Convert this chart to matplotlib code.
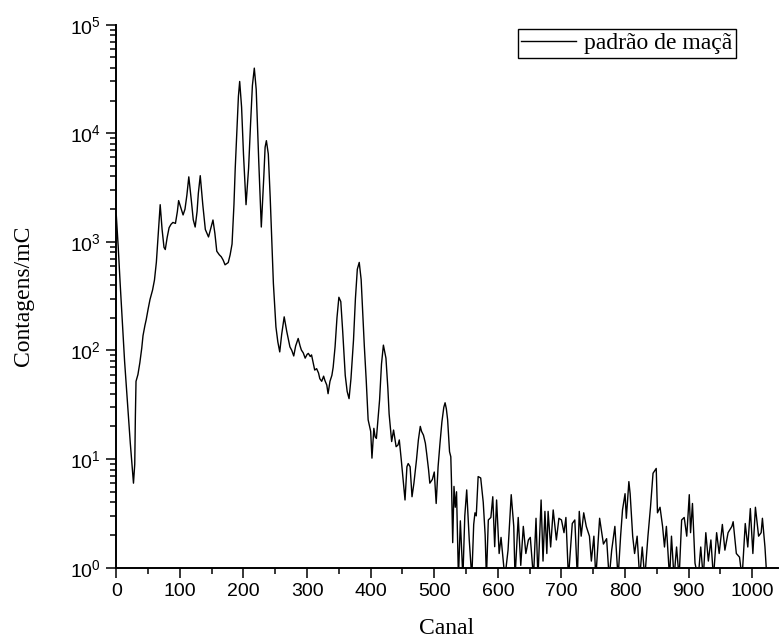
import matplotlib
matplotlib.use("Agg")
import numpy as np
import matplotlib.pyplot as plt

plt.rcParams['mathtext.fontset'] = 'custom'
plt.rcParams['mathtext.rm'] = 'Liberation Sans'
plt.rcParams['mathtext.it'] = 'Liberation Sans:italic'
plt.rcParams['mathtext.bf'] = 'Liberation Sans:bold'

# channel / counts per mC
canal = [
    0, 3, 6, 10, 13, 16, 19, 22, 25, 27, 29, 30, 31, 34, 37, 40, 42, 45, 47, 50,
    53, 57, 60, 63, 66, 69, 72, 75, 77, 80, 83, 86, 89, 93, 96, 98, 101, 105, 108, 111,
    114, 118, 121, 124, 127, 129, 132, 136, 140, 145, 148, 152, 155, 158, 162, 165, 168, 171, 176, 179,
    182, 185, 187, 190, 192, 194, 197, 200, 204, 208, 211, 214, 217, 220, 224, 228, 232, 234, 236, 239,
    242, 247, 251, 254, 257, 260, 264, 268, 273, 276, 279, 282, 286, 289, 291, 294, 297, 300, 302, 305,
    307, 310, 312, 315, 318, 320, 323, 326, 328, 331, 333, 336, 339, 341, 344, 347, 350, 353, 356, 360,
    363, 366, 369, 373, 376, 379, 382, 385, 387, 390, 393, 396, 400, 402, 405, 407, 409, 412, 414, 417,
    420, 424, 427, 429, 433, 436, 440, 443, 445, 448, 451, 454, 457, 459, 462, 465, 468, 472, 475, 478,
    480, 483, 486, 488, 491, 493, 497, 500, 503, 506, 509, 512, 515, 517, 519, 521, 524, 526, 527, 529,
    531, 533, 535, 538, 541, 545, 548, 551, 555, 559, 562, 564, 566, 569, 573, 577, 580, 582, 585, 589,
    592, 595, 598, 602, 605, 611, 616, 621, 625, 627, 632, 636, 640, 644, 648, 651, 656, 660, 663, 668,
    671, 674, 677, 679, 683, 687, 692, 696, 700, 704, 707, 711, 717, 721, 725, 728, 731, 735, 739, 744,
    747, 751, 754, 760, 766, 771, 775, 779, 784, 789, 793, 796, 800, 802, 806, 808, 812, 815, 819, 823,
    827, 831, 836, 840, 844, 849, 851, 855, 859, 862, 865, 870, 873, 877, 881, 885, 889, 893, 897, 901,
    903, 906, 910, 915, 919, 923, 927, 931, 935, 939, 944, 948, 953, 957, 962, 968, 970, 975, 980, 984,
    989, 993, 997, 1001, 1005, 1010, 1014, 1016, 1020, 1023,
]
contagens = [
    1750, 900, 420, 160, 80, 45, 25, 14, 8.5, 6.0, 9, 25, 52, 60, 77, 105, 137, 170, 192, 240,
    295, 360, 445, 650, 1200, 2200, 1300, 890, 850, 1100, 1350, 1450, 1510, 1480, 1900, 2400, 2100, 1770, 2000, 2700,
    3970, 2400, 1600, 1370, 1900, 2800, 4070, 2200, 1300, 1110, 1300, 1590, 1200, 820, 760, 730, 680, 615, 645, 760,
    955, 2200, 4750, 11700, 21800, 30000, 17400, 6400, 2200, 4750, 11800, 27500, 39800, 25300, 5500, 1370, 4050, 7450, 8550, 6450,
    2560, 415, 165, 120, 97, 140, 204, 150, 108, 100, 89, 110, 129, 110, 101, 95, 85, 92, 94, 88,
    91, 75, 66, 68, 62, 55, 52, 58, 53, 48, 40, 52, 59, 70, 108, 200, 309, 282, 150, 59,
    42, 36, 55, 125, 300, 560, 647, 450, 253, 110, 53, 23, 18, 10.2, 19.2, 16, 15.5, 25, 35, 75,
    112, 85, 45, 26, 14.5, 18.5, 13, 13.5, 15, 10, 6.5, 4.2, 8.5, 9.1, 8.5, 4.5, 6.0, 9.8, 15, 20,
    18, 16.6, 14, 11.3, 8, 6.0, 6.5, 7.6, 3.9, 8.5, 14, 22, 30, 33, 29, 23, 11.7, 10.5, 6.4, 1.7,
    5.6, 3.6, 5, 0.8, 2.7, 0.8, 3, 5.2, 1.8, 0.8, 2.5, 3.2, 3, 6.9, 6.7, 4.0, 2, 0.8, 2.75, 2.9,
    4.5, 1.56, 4.2, 1.35, 1.9, 0.8, 1.45, 4.7, 2.4, 0.8, 2.9, 1.05, 2.4, 1.35, 1.8, 1.9, 0.8, 2.85, 0.8, 4.2,
    1.15, 3.3, 1.35, 3.3, 1.55, 3.4, 1.8, 2.85, 2.75, 2.1, 2.9, 0.8, 2.55, 2.75, 0.8, 3.3, 1.95, 3.2, 2.4, 1.95,
    1.15, 1.95, 0.8, 2.85, 1.65, 1.85, 0.8, 1.45, 2.4, 0.8, 1.95, 3.4, 4.8, 2.85, 6.2, 4.8, 1.95, 1.35, 1.95, 0.8,
    1.55, 0.8, 1.95, 3.6, 7.4, 8.2, 3.2, 3.6, 2.4, 1.55, 2.4, 0.8, 1.95, 0.8, 1.55, 0.8, 2.75, 2.9, 1.95, 4.7,
    2.1, 3.9, 1.1, 0.8, 1.55, 0.8, 2.1, 1.15, 1.8, 0.8, 2.1, 1.35, 2.5, 1.45, 2.1, 2.4, 2.65, 1.35, 1.25, 0.8,
    2.55, 1.55, 3.5, 1.35, 3.6, 1.95, 2.1, 2.85, 1.55, 0.8,
]

fig = plt.figure(figsize=(7.79, 6.41), dpi=100)
ax = fig.add_axes([0.1493, 0.1144, 0.849, 0.8471])

ax.plot(canal, contagens, color='black', lw=1.0, label='padrão de maçã')
ax.set_yscale('log')
ax.set_xlim(0, 1040)
ax.set_ylim(1, 1e5)

ax.set_xticks(np.arange(0, 1001, 100))
ax.set_xticks(np.arange(50, 1001, 100), minor=True)

for s in ['top', 'right']:
    ax.spines[s].set_visible(False)
for s in ['left', 'bottom']:
    ax.spines[s].set_linewidth(1.4)

ax.tick_params(which='major', direction='out', length=7, width=1.1, labelsize=14, pad=4)
ax.tick_params(which='minor', direction='out', length=4, width=1.1)
for lab in ax.get_xticklabels() + ax.get_yticklabels():
    lab.set_family('Liberation Sans')

ax.set_xlabel('Canal', family='Liberation Serif', fontsize=17, labelpad=13)
ax.set_ylabel('Contagens/mC', family='Liberation Serif', fontsize=17, labelpad=26)

leg = ax.legend(loc='upper right', bbox_to_anchor=(0.9365, 0.9915), borderaxespad=0,
                fancybox=False, edgecolor='black', framealpha=1,
                prop={'family': 'Liberation Serif', 'size': 17},
                handlelength=2.3, handletextpad=0.35, borderpad=0.15)
leg.get_frame().set_linewidth(1.0)

fig.savefig('out.png', dpi=100)
